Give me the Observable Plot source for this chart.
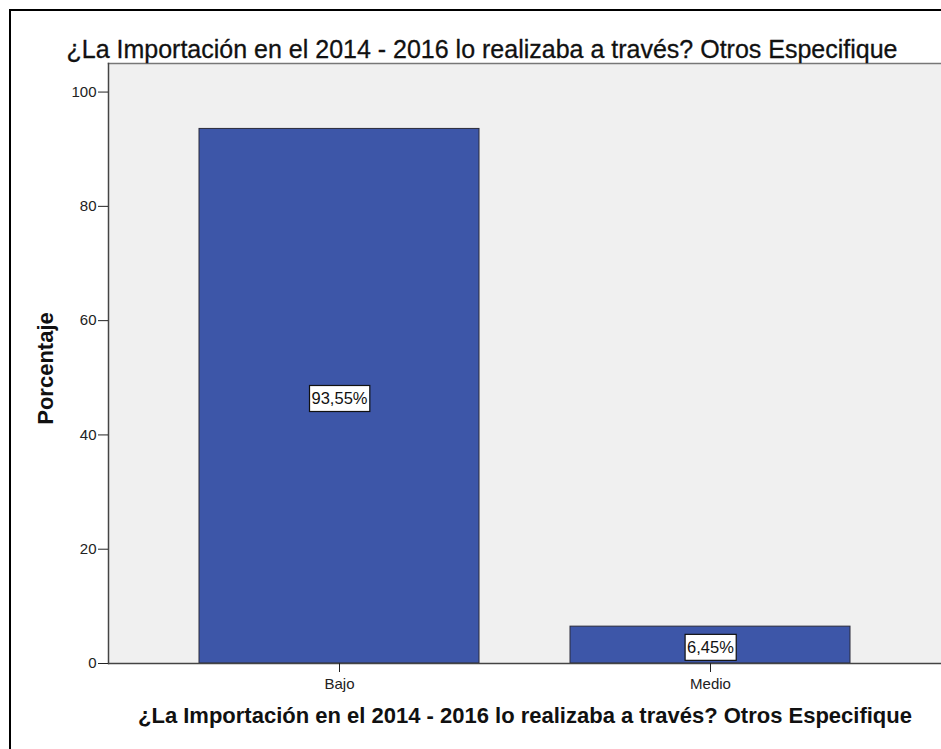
<!DOCTYPE html>
<html><head><meta charset="utf-8">
<script src="https://cdn.jsdelivr.net/npm/d3@7"></script>
<script src="https://cdn.jsdelivr.net/npm/@observablehq/plot@0.6"></script>
<style>
body{margin:0;background:#fff;}
#wrap{position:relative;width:941px;height:749px;overflow:hidden;font-family:"Liberation Sans",Arial,sans-serif;}
#border{position:absolute;left:9px;top:9px;width:980px;height:800px;border:2px solid #000;box-sizing:border-box;}
#chart{position:absolute;left:0;top:0;}
</style></head><body>
<div id="wrap"><div id="border"></div><div id="chart"></div></div>
<script>
const categories = ["Bajo", "Medio"];
const percentages = [93.55, 6.45];
const valueLabels = ["93,55%", "6,45%"];
const yTicks = [0, 20, 40, 60, 80, 100];
const titleText = "¿La Importación en el 2014 - 2016 lo realizaba a través? Otros Especifique";
const xTitle = "¿La Importación en el 2014 - 2016 lo realizaba a través? Otros Especifique";
const yTitle = "Porcentaje";

const data = categories.map((c, i) => ({cat: c, pct: percentages[i], label: valueLabels[i]}));

const plot = Plot.plot({
  width: 941,
  height: 749,
  marginTop: 63,
  marginBottom: 86,
  marginLeft: 108,
  marginRight: 0,
  style: {background: "transparent", fontFamily: "'Liberation Sans', Arial, sans-serif"},
  x: {domain: categories, padding: 0.245, label: null},
  y: {domain: [0, 105], label: null},
  marks: [
    Plot.frame({fill: "#f0f0f0", stroke: "none"}),
    Plot.barY(data, {x: "cat", y: "pct", fill: "#3d56a8", stroke: "#2b2b3a", strokeWidth: 1}),
    Plot.frame({anchor: "top", stroke: "#777", strokeWidth: 1.5}),
    Plot.frame({anchor: "left", stroke: "#444", strokeWidth: 1.5}),
    Plot.ruleY([0], {stroke: "#444", strokeWidth: 1.5}),
    Plot.axisY({ticks: yTicks, tickSize: 10, tickPadding: 2, fontSize: 15, color: "#222", label: null}),
    Plot.axisX({tickSize: 9, tickPadding: 6, fontSize: 15, color: "#222", label: null}),
    Plot.text(data, {x: "cat", y: d => d.pct / 2, text: "label", dy: 3, fontSize: 16.5, fill: "#111", className: "vlabel"}),
    Plot.text([titleText], {frameAnchor: "top", text: d => d, dy: -23, dx: -43, fontSize: 25, fill: "#111", stroke: "#111", strokeWidth: 0.3}),
    Plot.text([xTitle], {frameAnchor: "bottom", text: d => d, dy: 59, fontSize: 22, fontWeight: "bold", fill: "#111"}),
    Plot.text([yTitle], {frameAnchor: "left", textAnchor: "middle", text: d => d, dx: -63, dy: 5, rotate: -90, fontSize: 22, fontWeight: "bold", fill: "#111"})
  ]
});
document.getElementById("chart").appendChild(plot);

// white boxes behind value labels
const labelGroup = plot.querySelector("g.vlabel");
if (labelGroup) {
  labelGroup.querySelectorAll("text").forEach(t => {
    const b = t.getBBox();
    const r = document.createElementNS("http://www.w3.org/2000/svg", "rect");
    r.setAttribute("x", b.x - 2);
    r.setAttribute("y", b.y - 4);
    r.setAttribute("width", b.width + 4);
    r.setAttribute("height", b.height + 8);
    r.setAttribute("fill", "#fff");
    r.setAttribute("stroke", "#111");
    r.setAttribute("stroke-width", "1.2");
    const tr = t.getAttribute("transform");
    if (tr) r.setAttribute("transform", tr);
    t.parentNode.insertBefore(r, t);
  });
}
</script>
</body></html>
